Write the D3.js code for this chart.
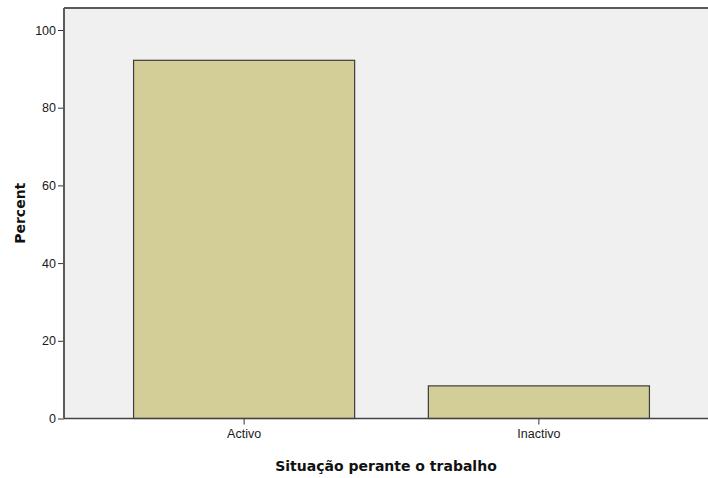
<!DOCTYPE html>
<html><head><meta charset="utf-8">
<script src="https://cdn.jsdelivr.net/npm/d3@7"></script>
<style>body{margin:0;background:#fff;} text{font-family:"Liberation Sans",Arial,sans-serif;}</style>
</head><body><svg id="c" width="708" height="478"></svg>
<script>
const categories = ["Activo", "Inactivo"];
const percents = [92.2, 8.4];
const yTicks = [0, 20, 40, 60, 80, 100];
const xTitle = "Situação perante o trabalho";
const yTitle = "Percent";

const svg = d3.select("#c");
const L = 64, T = 8, B = 418.5, R = 719;
const x = d3.scaleBand().domain(categories).range([L, R]).paddingInner(0.25).paddingOuter(0.236);
const y = d3.scaleLinear().domain([0, 100]).range([B, 30]);

svg.append("rect").attr("x", L).attr("y", T).attr("width", 708 - L).attr("height", B - T).attr("fill", "#f0f0f0");

svg.selectAll(".bar").data(categories).enter().append("rect")
  .attr("x", d => x(d)).attr("y", (d, i) => y(percents[i]))
  .attr("width", x.bandwidth()).attr("height", (d, i) => B - y(percents[i]))
  .attr("fill", "#d3ce97").attr("stroke", "#3c3c3c").attr("stroke-width", 1.2);

svg.append("line").attr("x1", L).attr("x2", 708).attr("y1", T).attr("y2", T).attr("stroke", "#5a5a5a").attr("stroke-width", 2);

const ya = svg.append("g").attr("transform", `translate(${L},0)`)
  .call(d3.axisLeft(y).tickValues(yTicks).tickSize(6).tickPadding(2));
ya.select(".domain").remove();
ya.append("line").attr("x1", 0).attr("x2", 0).attr("y1", T).attr("y2", B).attr("stroke", "#5a5a5a").attr("stroke-width", 2);
ya.selectAll(".tick line").attr("stroke", "#333");
ya.selectAll("text").attr("font-size", 12.5).attr("fill", "#1a1a1a").style("font-family", "Liberation Sans, Arial, sans-serif");

const xa = svg.append("g").attr("transform", `translate(0,${B})`)
  .call(d3.axisBottom(x).tickSize(6).tickPadding(5));
xa.select(".domain").remove();
xa.append("line").attr("x1", L).attr("x2", 708).attr("y1", 0).attr("y2", 0).attr("stroke", "#444").attr("stroke-width", 1.5);
xa.selectAll(".tick line").attr("stroke", "#333");
xa.selectAll("text").attr("font-size", 12.5).attr("fill", "#1a1a1a").style("font-family", "Liberation Sans, Arial, sans-serif");

svg.append("text").attr("x", (L + 708) / 2).attr("y", 471).attr("text-anchor", "middle")
  .attr("font-size", 14).attr("font-weight", "bold").style("font-family", "DejaVu Sans, sans-serif").attr("fill", "#111").text(xTitle);
svg.append("text").attr("transform", `translate(25,${(T + B) / 2}) rotate(-90)`).attr("text-anchor", "middle")
  .attr("font-size", 14).attr("font-weight", "bold").style("font-family", "DejaVu Sans, sans-serif").attr("fill", "#111").text(yTitle);
</script></body></html>
